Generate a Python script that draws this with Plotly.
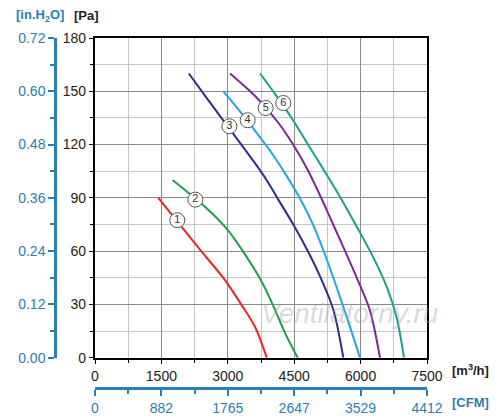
import plotly.graph_objects as go

# fan curves, flow in m3/h, static pressure in Pa
flow_1 = [1430, 1958, 2400, 2937, 3313, 3614, 3880]
pres_1 = [90, 73.7, 60, 43.7, 29.6, 17.4, 0]

flow_2 = [1750, 2100, 2485, 2997, 3350, 3740, 4040, 4290, 4580]
pres_2 = [100, 93, 85, 72, 59.6, 44, 28.5, 14, 0]

flow_3 = [2120, 2500, 2900, 3125, 3727, 3953, 4141, 4480, 4819, 5121, 5384, 5610]
pres_3 = [160, 147, 133.5, 126, 105.6, 97, 89, 75, 59.5, 43.7, 27, 0]

flow_4 = [2900, 3300, 3700, 4000, 4300, 4631, 4932, 5158, 5384, 5686, 5986]
pres_4 = [150, 138, 125, 115, 103.5, 89.6, 74.6, 60.5, 45, 23, 0]

flow_5 = [3050, 3650, 4150, 4450, 4800, 5100, 5380, 5686, 5948, 6212, 6438]
pres_5 = [160, 146.5, 132, 121, 106, 90.5, 75, 58, 43, 26.5, 0]

flow_6 = [3730, 4066, 4466, 4850, 5234, 5572, 5920, 6287, 6589, 6815, 6980]
pres_6 = [160, 148.5, 134, 118.5, 103, 89, 73.5, 56.5, 40, 22.5, 0]

curve_names = ["1", "2", "3", "4", "5", "6"]
label_flow = [1859, 2266, 3035, 3449, 3856, 4254]
label_pres = [77.4, 89, 130.3, 133.7, 140.6, 143.4]

cfm_ticks = [0, 882, 1765, 2647, 3529, 4412]
inh2o_ticks = [0.00, 0.12, 0.24, 0.36, 0.48, 0.60, 0.72]

COLORS = ["#e5262b", "#1f9e4f", "#2c2f8a", "#1ea8e2", "#7d2a8f", "#17a08c"]
BLUE = "#2a7fb5"
DARK = "#222222"
FONT = "Liberation Sans, Arial, sans-serif"

# the page body has an 8px margin, so the figure is 8px smaller than the window
OFF = 8
W, H = 500 - OFF, 418 - OFF
ML, MR, MT, MB = 32, 73, 30, 30
PW, PH = W - ML - MR, H - MT - MB


def px_x(px):
    # window pixel -> paper x
    return (px - OFF - ML) / PW


def px_y(py):
    # window pixel -> paper y
    return (H - MB - (py - OFF)) / PH


fig = go.Figure()
curves = [(flow_1, pres_1), (flow_2, pres_2), (flow_3, pres_3),
          (flow_4, pres_4), (flow_5, pres_5), (flow_6, pres_6)]
for (fx, fy), color, name in zip(curves, COLORS, curve_names):
    fig.add_trace(go.Scatter(x=fx, y=fy, mode="lines", name=name,
                             line=dict(color=color, width=2, shape="spline", smoothing=0.9),
                             hoverinfo="skip", showlegend=False))

fig.add_trace(go.Scatter(
    x=label_flow, y=label_pres, mode="markers+text", text=curve_names, textposition="middle center",
    textfont=dict(size=11, color="#333333", family=FONT),
    marker=dict(size=15, color="white", line=dict(color="#555555", width=1)),
    hoverinfo="skip", showlegend=False))

# dummy trace so the secondary (CFM / in.H2O) axes get drawn
fig.add_trace(go.Scatter(x=[None], y=[None], xaxis="x2", yaxis="y2", showlegend=False, hoverinfo="skip"))

x_dom0 = px_x(95)
y_dom0 = px_y(357.7)
tickfont = dict(size=14, color=DARK, family=FONT)
bluefont = dict(size=14, color=BLUE, family=FONT)

fig.update_layout(
    width=W, height=H, margin=dict(l=ML, r=MR, t=MT, b=MB, autoexpand=False),
    paper_bgcolor="white", plot_bgcolor="white", showlegend=False,
    xaxis=dict(domain=[x_dom0, 1], range=[0, 7500], dtick=1500, tick0=0, automargin=False,
               showgrid=True, gridcolor="#8a8a8a", gridwidth=1.3,
               showline=True, linecolor="black", linewidth=2.2, mirror=True,
               ticks="outside", ticklen=4, tickcolor="black", tickfont=tickfont, zeroline=False,
               minor=dict(dtick=750, showgrid=True, gridcolor="#c6c6c6", gridwidth=1,
                          ticks="outside", ticklen=3, tickcolor="black")),
    yaxis=dict(domain=[y_dom0, 1], range=[0, 180], dtick=30, tick0=0, automargin=False,
               showgrid=True, gridcolor="#8a8a8a", gridwidth=1.3,
               showline=True, linecolor="black", linewidth=2.2, mirror=True,
               ticks="outside", ticklen=4, tickcolor="black", tickfont=tickfont, zeroline=False,
               minor=dict(dtick=15, showgrid=True, gridcolor="#c6c6c6", gridwidth=1,
                          ticks="outside", ticklen=3, tickcolor="black")),
    xaxis2=dict(overlaying="x", anchor="free", position=0, side="bottom", range=[0, 4412],
                tickvals=cfm_ticks, showgrid=False, zeroline=False, automargin=False,
                showline=True, linecolor=BLUE, linewidth=2.5,
                ticks="outside", ticklen=6, tickwidth=2, tickcolor=BLUE, tickfont=bluefont,
                minor=dict(tickvals=[441, 1323.5, 2206, 3088, 3970.5], ticks="outside",
                           ticklen=4, tickwidth=2, tickcolor=BLUE)),
    yaxis2=dict(overlaying="y", anchor="free", position=px_x(55), side="left", range=[0, 0.72],
                tickvals=inh2o_ticks, tickformat=".2f", showgrid=False, zeroline=False, automargin=False,
                showline=True, linecolor=BLUE, linewidth=2.5,
                ticks="outside", ticklen=6, tickwidth=2, tickcolor=BLUE, tickfont=bluefont,
                minor=dict(tickvals=[0.06, 0.18, 0.30, 0.42, 0.54, 0.66], ticks="outside",
                           ticklen=4, tickwidth=2, tickcolor=BLUE)),
)

titles = [
    ("[in.H<sub>2</sub>O]", 40, 15, BLUE),
    ("[Pa]", 86, 15, DARK),
    ("[m<sup>3</sup>/h]", 471, 370, DARK),
    ("[CFM]", 471, 402, BLUE),
]
for text, px, py, color in titles:
    fig.add_annotation(text="<b>" + text + "</b>", xref="paper", yref="paper", x=px_x(px), y=px_y(py),
                       showarrow=False, xanchor="center", yanchor="middle",
                       font=dict(size=13, color=color, family=FONT))

# watermark
fig.add_annotation(text="Ventilatorny.ru", xref="paper", yref="paper", x=px_x(350), y=px_y(313),
                   showarrow=False, xanchor="center", yanchor="middle",
                   font=dict(size=28, color="rgba(160,160,160,0.4)", family=FONT, style="italic"))

fig.write_html("out.html")
